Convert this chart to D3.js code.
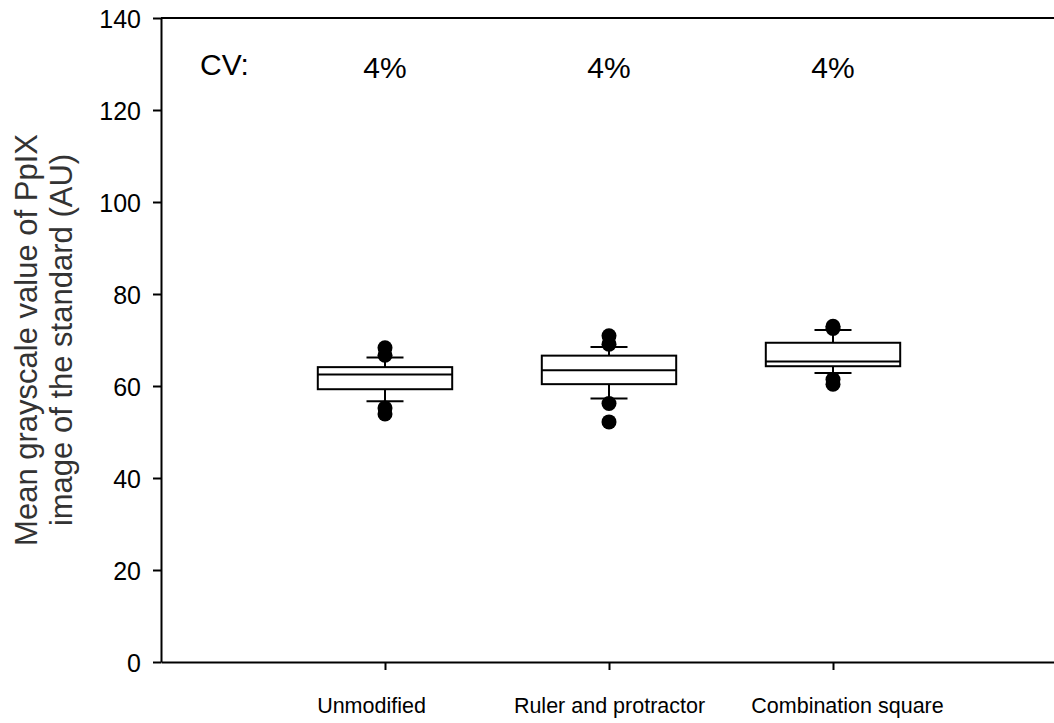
<!DOCTYPE html>
<html>
<head>
<meta charset="utf-8">
<script src="https://cdn.jsdelivr.net/npm/d3@7"></script>
<style>
  body { margin: 0; background: #fff; }
  svg { font-family: "Liberation Sans", Arial, sans-serif; }
</style>
</head>
<body>
<div class="chart"></div>
<script>
const w = 1054;
const h = 723;

// data
const categories = ['Unmodified', 'Ruler and protractor', 'Combination square'];
const q1 = [59.3, 60.4, 64.3];
const medians = [62.5, 63.4, 65.3];
const q3 = [64.1, 66.6, 69.4];
const whiskerLow = [56.7, 57.3, 62.8];
const whiskerHigh = [66.2, 68.5, 72.2];
const outliers = [
  [68.3, 66.7, 55.2, 53.9],
  [70.9, 69.1, 56.2, 52.2],
  [73.0, 72.5, 61.4, 60.4]
];
const cvLabels = ['4%', '4%', '4%'];
const yTicks = [0, 20, 40, 60, 80, 100, 120, 140];

const plotLeft = 161;
const plotRight = 1057;
const plotTop = 18;
const plotBottom = 662;

const svg = d3
  .select('.chart')
  .append('svg')
  .attr('width', w)
  .attr('height', h);

const xScale = d3
  .scalePoint()
  .domain(categories)
  .range([plotLeft, plotRight])
  .padding(1);

// the category names sit a little off their ticks in the original
const labelScale = d3
  .scalePoint()
  .domain(categories)
  .range([133.5, 1085.5])
  .padding(1);

const yScale = d3.scaleLinear().domain([0, 140]).range([plotBottom, plotTop]);

// Left axis
const yAxis = d3
  .axisLeft(yScale)
  .tickValues(yTicks)
  .tickSize(8)
  .tickPadding(12)
  .tickSizeOuter(0);

const gy = svg
  .append('g')
  .attr('transform', `translate(${plotLeft},0)`)
  .call(yAxis);
gy.select('.domain').attr('stroke-width', 2);
gy.selectAll('.tick line').attr('stroke-width', 2);
gy.selectAll('.tick text')
  .attr('font-size', 25)
  .attr('fill', '#000')
  .attr('dy', '0.36em');

// Bottom axis
const xAxis = d3
  .axisBottom(xScale)
  .tickSize(8)
  .tickSizeOuter(0)
  .tickFormat('');

const gx = svg
  .append('g')
  .attr('transform', `translate(0,${plotBottom})`)
  .call(xAxis);
gx.select('.domain').attr('stroke-width', 2);
gx.selectAll('.tick line').attr('stroke-width', 2);

// top frame line
svg
  .append('line')
  .attr('x1', plotLeft)
  .attr('x2', plotRight)
  .attr('y1', yScale(140))
  .attr('y2', yScale(140))
  .attr('stroke', '#000')
  .attr('stroke-width', 2);

// category labels
svg
  .selectAll('.cat')
  .data(categories)
  .enter()
  .append('text')
  .attr('class', 'cat')
  .attr('x', (d) => labelScale(d))
  .attr('y', 713)
  .attr('text-anchor', 'middle')
  .attr('font-size', 21.5)
  .attr('fill', '#000')
  .text((d) => d);

// boxes
const boxW = xScale.step() * 0.6;
const capW = 37;

const boxes = svg
  .selectAll('.box')
  .data(categories)
  .enter()
  .append('g')
  .attr('class', 'box');

boxes
  .append('line')
  .attr('x1', (d) => xScale(d))
  .attr('x2', (d) => xScale(d))
  .attr('y1', (d, i) => yScale(whiskerLow[i]))
  .attr('y2', (d, i) => yScale(q1[i]))
  .attr('stroke', '#000')
  .attr('stroke-width', 2);

boxes
  .append('line')
  .attr('x1', (d) => xScale(d))
  .attr('x2', (d) => xScale(d))
  .attr('y1', (d, i) => yScale(whiskerHigh[i]))
  .attr('y2', (d, i) => yScale(q3[i]))
  .attr('stroke', '#000')
  .attr('stroke-width', 2);

boxes
  .append('line')
  .attr('x1', (d) => xScale(d) - capW / 2)
  .attr('x2', (d) => xScale(d) + capW / 2)
  .attr('y1', (d, i) => yScale(whiskerLow[i]))
  .attr('y2', (d, i) => yScale(whiskerLow[i]))
  .attr('stroke', '#000')
  .attr('stroke-width', 2);

boxes
  .append('line')
  .attr('x1', (d) => xScale(d) - capW / 2)
  .attr('x2', (d) => xScale(d) + capW / 2)
  .attr('y1', (d, i) => yScale(whiskerHigh[i]))
  .attr('y2', (d, i) => yScale(whiskerHigh[i]))
  .attr('stroke', '#000')
  .attr('stroke-width', 2);

boxes
  .append('rect')
  .attr('x', (d) => xScale(d) - boxW / 2)
  .attr('width', boxW)
  .attr('y', (d, i) => yScale(q3[i]))
  .attr('height', (d, i) => yScale(q1[i]) - yScale(q3[i]))
  .attr('fill', '#fff')
  .attr('stroke', '#000')
  .attr('stroke-width', 2);

boxes
  .append('line')
  .attr('x1', (d) => xScale(d) - boxW / 2)
  .attr('x2', (d) => xScale(d) + boxW / 2)
  .attr('y1', (d, i) => yScale(medians[i]))
  .attr('y2', (d, i) => yScale(medians[i]))
  .attr('stroke', '#000')
  .attr('stroke-width', 2);

// outlier points
boxes
  .selectAll('circle')
  .data((d, i) => outliers[i].map((v) => ({ cat: d, v: v })))
  .enter()
  .append('circle')
  .attr('cx', (d) => xScale(d.cat))
  .attr('cy', (d) => yScale(d.v))
  .attr('r', 7.5)
  .attr('fill', '#000');

// CV annotations
svg
  .append('text')
  .attr('x', 200)
  .attr('y', 75)
  .attr('font-size', 30)
  .attr('fill', '#000')
  .text('CV:');

svg
  .selectAll('.cv')
  .data(categories)
  .enter()
  .append('text')
  .attr('class', 'cv')
  .attr('x', (d) => xScale(d))
  .attr('y', 78)
  .attr('text-anchor', 'middle')
  .attr('font-size', 30)
  .attr('fill', '#000')
  .text((d, i) => cvLabels[i]);

// y title
const yTitle = svg
  .append('text')
  .attr('transform', `translate(0,${(plotTop + plotBottom) / 2}) rotate(-90)`)
  .attr('text-anchor', 'middle')
  .attr('font-size', 31)
  .attr('fill', '#333');
yTitle.append('tspan').attr('x', 0).attr('y', 37).text('Mean grayscale value of PpIX');
yTitle.append('tspan').attr('x', 0).attr('y', 72).text('image of the standard (AU)');
</script>
</body>
</html>
